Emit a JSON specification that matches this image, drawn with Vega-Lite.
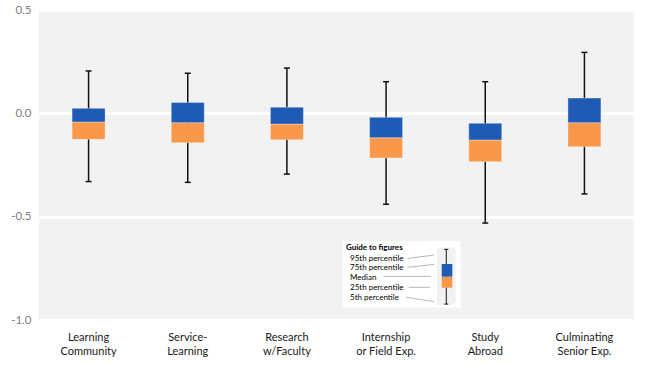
{
  "$schema": "https://vega.github.io/schema/vega-lite/v6.json",
  "width": 595,
  "height": 310,
  "autosize": {"type": "none"},
  "padding": {"left": 39, "top": 10, "right": 14, "bottom": 45},
  "background": "white",
  "config": {
    "view": {"fill": "#f2f2f2", "stroke": null},
    "font": "Lato",
    "axisY": {
      "grid": true, "gridColor": "white", "gridWidth": 3,
      "domain": false, "ticks": false, "labelColor": "#808080",
      "labelFontSize": 11.5, "labelPadding": 8, "title": null
    },
    "axisX": {
      "grid": false, "domain": false, "ticks": false, "labelAngle": 0,
      "labelColor": "#1a1a1a", "labelFontSize": 11, "labelPadding": 11,
      "labelLineHeight": 14.5, "title": null,
      "labelExpr": "split(datum.label, '|')"
    }
  },
  "datasets": {
    "boxes": [
      {"cat": "Learning|Community", "p5": -0.330, "q1": -0.126, "med": -0.042, "q3": 0.024, "p95": 0.205},
      {"cat": "Service-|Learning", "p5": -0.334, "q1": -0.142, "med": -0.045, "q3": 0.053, "p95": 0.194},
      {"cat": "Research|w/Faculty", "p5": -0.294, "q1": -0.128, "med": -0.052, "q3": 0.030, "p95": 0.219},
      {"cat": "Internship|or Field Exp.", "p5": -0.440, "q1": -0.216, "med": -0.118, "q3": -0.019, "p95": 0.153},
      {"cat": "Study|Abroad", "p5": -0.531, "q1": -0.234, "med": -0.129, "q3": -0.048, "p95": 0.153},
      {"cat": "Culminating|Senior Exp.", "p5": -0.390, "q1": -0.162, "med": -0.045, "q3": 0.074, "p95": 0.295}
    ],
    "guideTitle": [
      {"t": "Guide to figures", "gx": 3.095, "gy": -0.653}
    ],
    "guideText": [
      {"t": "95th percentile", "gx": 3.136, "gy": -0.705},
      {"t": "75th percentile", "gx": 3.136, "gy": -0.750},
      {"t": "Median", "gx": 3.136, "gy": -0.798},
      {"t": "25th percentile", "gx": 3.136, "gy": -0.847},
      {"t": "5th percentile", "gx": 3.136, "gy": -0.892}
    ],
    "guideLines": [
      {"x1": 3.718, "y1": -0.702, "x2": 3.983, "y2": -0.686},
      {"x1": 3.718, "y1": -0.745, "x2": 3.983, "y2": -0.731},
      {"x1": 3.472, "y1": -0.789, "x2": 3.950, "y2": -0.789},
      {"x1": 3.728, "y1": -0.842, "x2": 3.943, "y2": -0.842},
      {"x1": 3.701, "y1": -0.890, "x2": 3.983, "y2": -0.911}
    ],
    "guideBox": [
      {"gx": 4.107, "gx1": 4.061, "gx2": 4.168, "p5": -0.923, "q1": -0.844, "med": -0.790, "q3": -0.729, "p95": -0.658}
    ],
    "guidePanels": [
      {"part": "frame", "x1": 3.062, "x2": 4.252, "y1": -0.618, "y2": -0.940},
      {"part": "bg", "x1": 4.013, "x2": 4.202, "y1": -0.650, "y2": -0.927}
    ]
  },
  "resolve": {"scale": {"x": "independent"}},
  "layer": [
    {
      "data": {"name": "boxes"},
      "encoding": {
        "x": {"field": "cat", "type": "nominal", "sort": null, "scale": {"paddingInner": 0, "paddingOuter": 0}}
      },
      "layer": [
        {
          "mark": {"type": "rule", "color": "#111111", "strokeWidth": 1.5},
          "encoding": {
            "y": {"field": "p5", "type": "quantitative", "scale": {"domain": [-1, 0.5], "nice": false, "zero": false}, "title": null,
              "axis": {"values": [-1, -0.5, 0, 0.5], "labelExpr": "replace(format(datum.value, '.1f'), '\u2212', '-')"}},
            "y2": {"field": "p95"}
          }
        },
        {
          "mark": {"type": "tick", "orient": "horizontal", "size": 6, "thickness": 1.5, "color": "#111111", "opacity": 1},
          "encoding": {"y": {"field": "p5", "type": "quantitative", "title": null}}
        },
        {
          "mark": {"type": "tick", "orient": "horizontal", "size": 6, "thickness": 1.5, "color": "#111111", "opacity": 1},
          "encoding": {"y": {"field": "p95", "type": "quantitative", "title": null}}
        },
        {
          "mark": {"type": "bar", "width": 33, "color": "#f9984a", "stroke": "#ffffff", "strokeOpacity": 0.35, "strokeWidth": 1},
          "encoding": {"y": {"field": "q1", "type": "quantitative", "title": null}, "y2": {"field": "med"}}
        },
        {
          "mark": {"type": "bar", "width": 33, "color": "#1f5bb5", "stroke": "#ffffff", "strokeOpacity": 0.35, "strokeWidth": 1},
          "encoding": {"y": {"field": "med", "type": "quantitative", "title": null}, "y2": {"field": "q3"}}
        }
      ]
    },
    {
      "layer": [
        {
          "data": {"name": "guidePanels"},
          "mark": {"type": "rect"},
          "encoding": {
            "x": {"field": "x1", "type": "quantitative", "scale": {"domain": [0, 6], "nice": false, "zero": false}, "axis": null},
            "x2": {"field": "x2"},
            "y": {"field": "y1", "type": "quantitative", "title": null},
            "y2": {"field": "y2"},
            "color": {"field": "part", "type": "nominal", "scale": {"domain": ["frame", "bg"], "range": ["#ffffff", "#f2f2f2"]}, "legend": null}
          }
        },
        {
          "data": {"name": "guideLines"},
          "mark": {"type": "rule", "color": "#b8b8b8", "strokeWidth": 1},
          "encoding": {
            "x": {"field": "x1", "type": "quantitative"},
            "x2": {"field": "x2"},
            "y": {"field": "y1", "type": "quantitative", "title": null},
            "y2": {"field": "y2"}
          }
        },
        {
          "data": {"name": "guideTitle"},
          "mark": {"type": "text", "align": "left", "baseline": "middle", "fontSize": 8, "fontWeight": "bold", "color": "#000000"},
          "encoding": {
            "x": {"field": "gx", "type": "quantitative"},
            "y": {"field": "gy", "type": "quantitative", "title": null},
            "text": {"field": "t"}
          }
        },
        {
          "data": {"name": "guideText"},
          "mark": {"type": "text", "align": "left", "baseline": "middle", "fontSize": 8, "color": "#000000"},
          "encoding": {
            "x": {"field": "gx", "type": "quantitative"},
            "y": {"field": "gy", "type": "quantitative", "title": null},
            "text": {"field": "t"}
          }
        },
        {
          "data": {"name": "guideBox"},
          "layer": [
            {
              "mark": {"type": "rule", "color": "#111111", "strokeWidth": 1},
              "encoding": {
                "x": {"field": "gx", "type": "quantitative"},
                "y": {"field": "p5", "type": "quantitative", "title": null},
                "y2": {"field": "p95"}
              }
            },
            {
              "mark": {"type": "tick", "orient": "horizontal", "size": 4, "thickness": 1, "color": "#111111", "opacity": 1},
              "encoding": {
                "x": {"field": "gx", "type": "quantitative"},
                "y": {"field": "p5", "type": "quantitative", "title": null}
              }
            },
            {
              "mark": {"type": "tick", "orient": "horizontal", "size": 4, "thickness": 1, "color": "#111111", "opacity": 1},
              "encoding": {
                "x": {"field": "gx", "type": "quantitative"},
                "y": {"field": "p95", "type": "quantitative", "title": null}
              }
            },
            {
              "mark": {"type": "rect", "color": "#f9984a"},
              "encoding": {
                "x": {"field": "gx1", "type": "quantitative"},
                "x2": {"field": "gx2"},
                "y": {"field": "q1", "type": "quantitative", "title": null},
                "y2": {"field": "med"}
              }
            },
            {
              "mark": {"type": "rect", "color": "#1f5bb5"},
              "encoding": {
                "x": {"field": "gx1", "type": "quantitative"},
                "x2": {"field": "gx2"},
                "y": {"field": "med", "type": "quantitative", "title": null},
                "y2": {"field": "q3"}
              }
            }
          ]
        }
      ]
    }
  ]
}
